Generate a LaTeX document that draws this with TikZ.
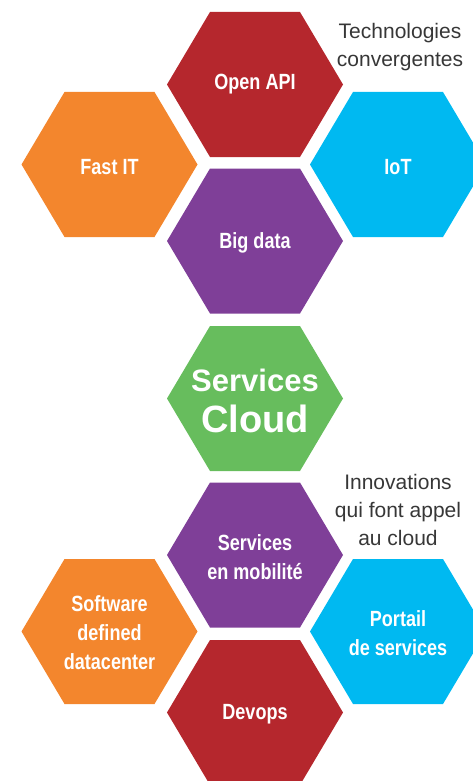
\documentclass[tikz,border=0pt]{standalone}
\usepackage{fontspec}
\setmainfont{Liberation Sans}
\newfontfamily\condfont[FakeStretch=0.82]{Liberation Sans}
\definecolor{hexred}{RGB}{181,39,45}
\definecolor{hexorange}{RGB}{243,134,45}
\definecolor{hexcyan}{RGB}{0,185,241}
\definecolor{hexpurple}{RGB}{127,63,152}
\definecolor{hexgreen}{RGB}{103,189,93}
\definecolor{sidegray}{RGB}{55,55,55}
\tikzset{
  hexlabel/.style={text=white, align=center,
    font=\condfont\bfseries\fontsize{22}{29}\selectfont},
  sidetext/.style={text=sidegray, align=center,
    font=\fontsize{21}{28}\selectfont}
}
% hexagon cell: centre, colour
\newcommand{\hexcell}[2]{%
  \fill[#2] (#1) +(-88,0) -- +(-45,-72.5) -- +(45,-72.5)
    -- +(88,0) -- +(45,72.5) -- +(-45,72.5) -- cycle;}

\begin{document}
\begin{tikzpicture}[x=1pt, y=-1pt]
    \useasboundingbox (0,0) rectangle (472,781);

    % technologies convergentes
    \hexcell{255,84.5}{hexred}
    \hexcell{109.5,164.5}{hexorange}
    \hexcell{398,164.5}{hexcyan}
    \hexcell{255,241}{hexpurple}
    \node[hexlabel] (openapi) at (255,84.5) {Open API};
    \node[hexlabel] (fastit) at (109.5,167) {Fast IT};
    \node[hexlabel] (iot) at (398,167) {IoT};
    \node[hexlabel] (bigdata) at (255,243) {Big data};
    \node[sidetext] (techno) at (400,47) {Technologies\\convergentes};

    % services cloud
    \hexcell{255,398.5}{hexgreen}
    \node[text=white, align=center, font=\bfseries\fontsize{31}{41}\selectfont]
        (cloud) at (255,401) {Services\\{\fontsize{38}{41}\selectfont Cloud}};

    % innovations
    \hexcell{255,555}{hexpurple}
    \hexcell{109.5,631.5}{hexorange}
    \hexcell{398,631.5}{hexcyan}
    \hexcell{255,712.5}{hexred}
    \node[hexlabel] (mobilite) at (255,557) {Services\\en mobilité};
    \node[hexlabel] (sddc) at (109.5,633) {Software\\defined\\datacenter};
    \node[hexlabel] (portail) at (398,633) {Portail\\de services};
    \node[hexlabel] (devops) at (255,714) {Devops};
    \node[sidetext] (innov) at (398,510) {Innovations\\qui font appel\\au cloud};
\end{tikzpicture}
\end{document}
